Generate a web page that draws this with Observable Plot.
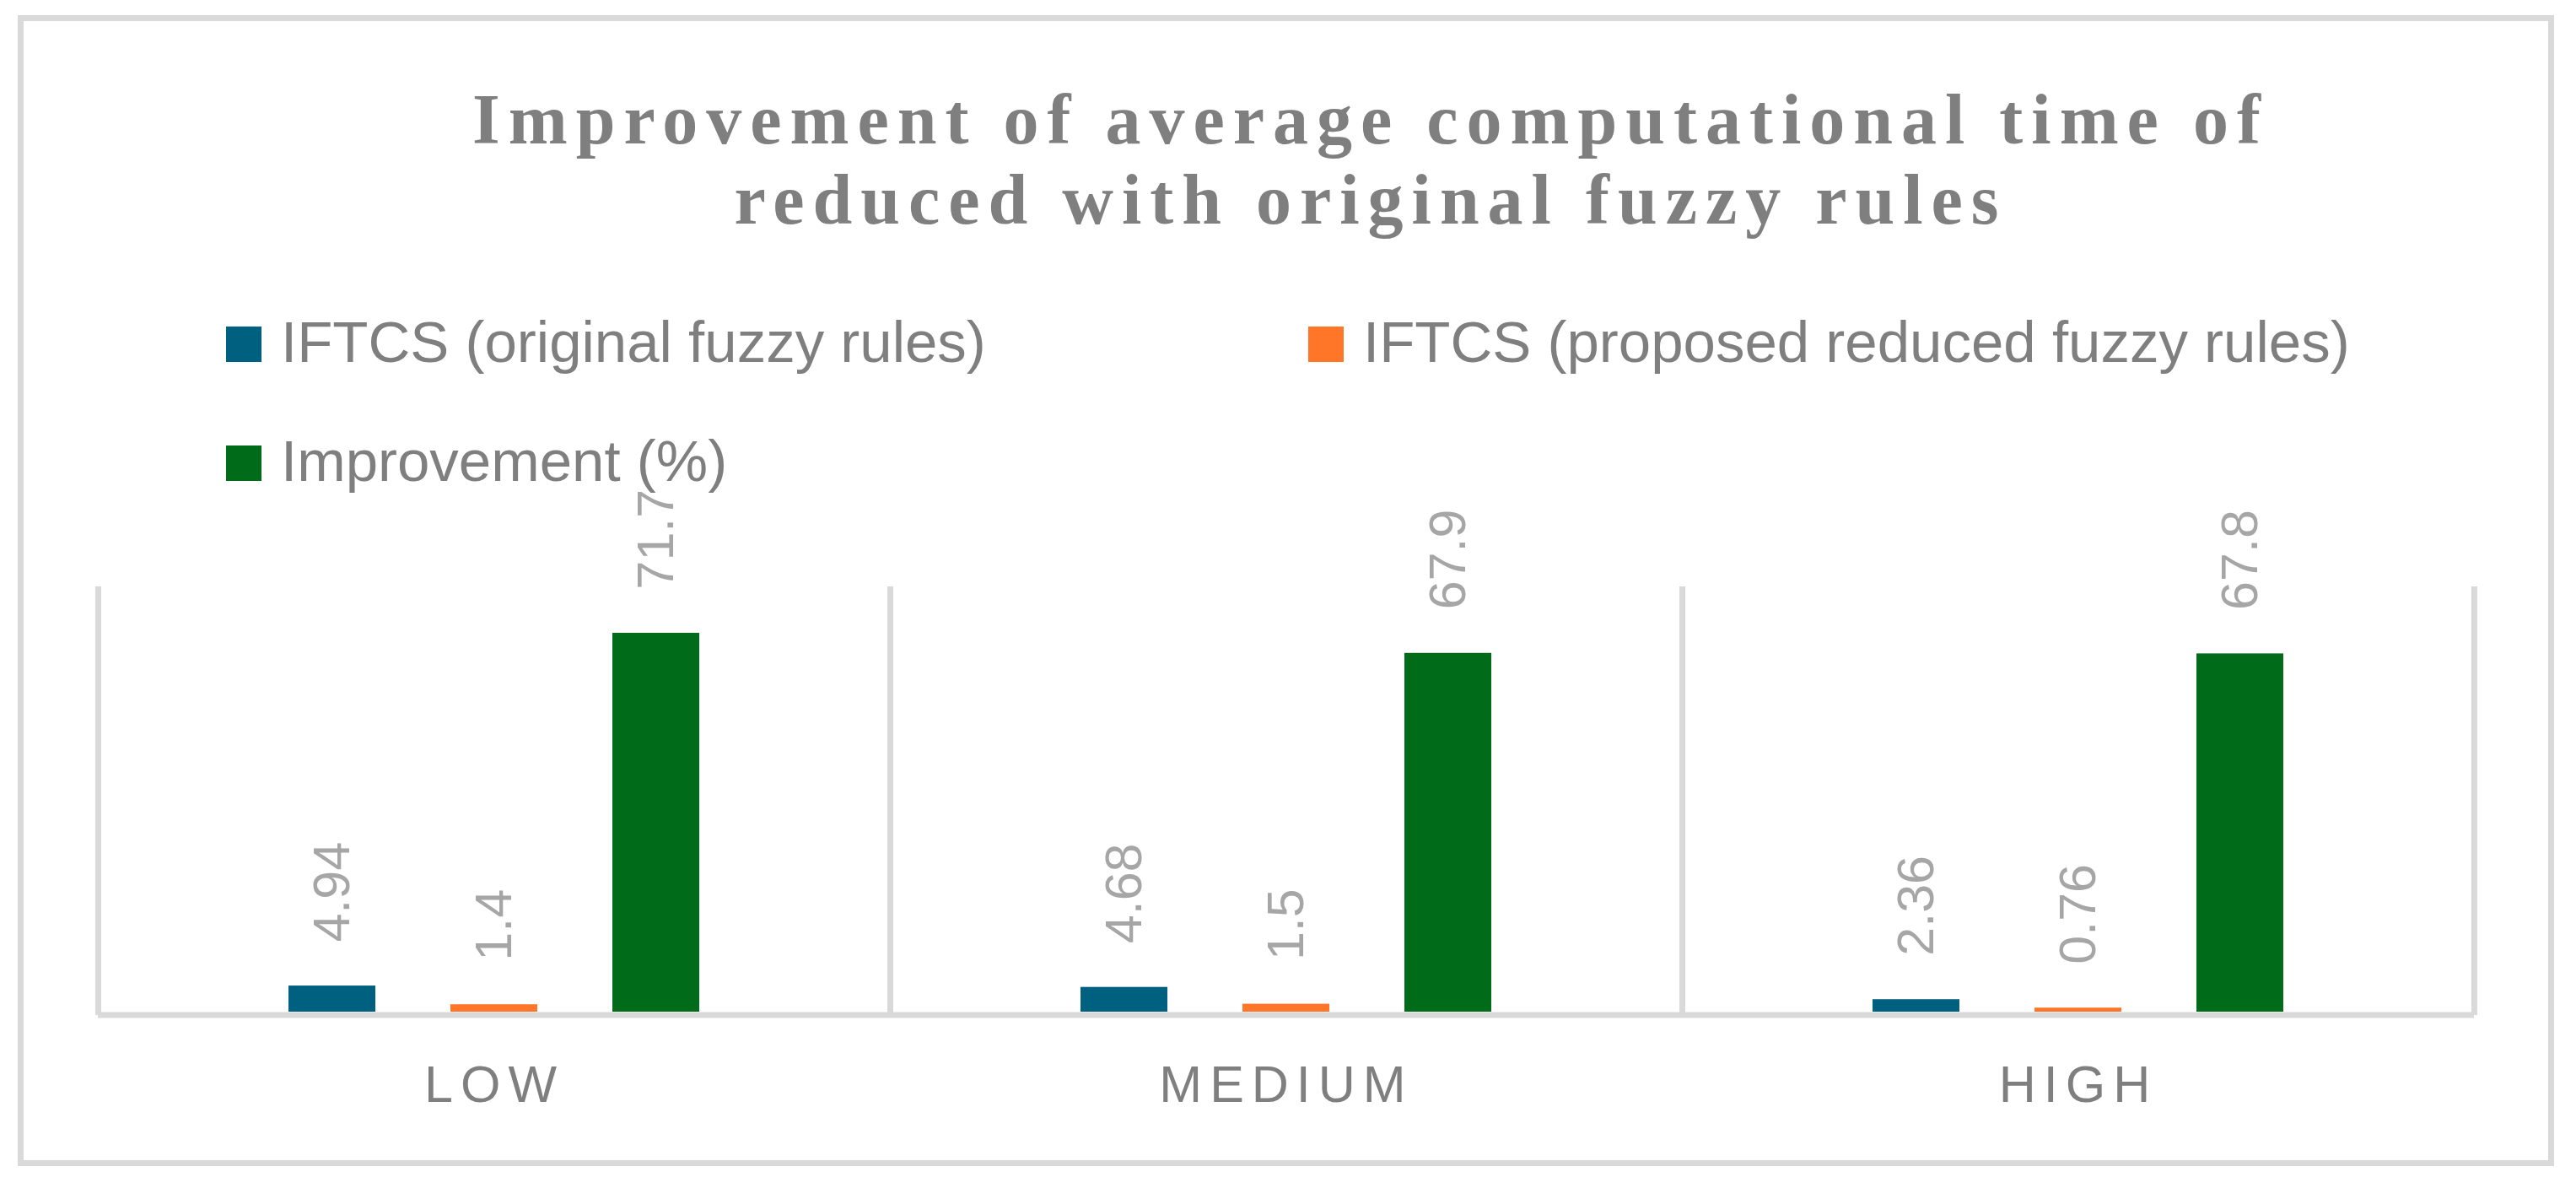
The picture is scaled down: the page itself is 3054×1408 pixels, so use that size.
<!DOCTYPE html>
<html>
<head>
<meta charset="utf-8">
<script src="https://cdn.jsdelivr.net/npm/d3@7"></script>
<script src="https://cdn.jsdelivr.net/npm/@observablehq/plot@0.6"></script>
<style>
  html, body { margin: 0; padding: 0; background: #fff; }
  #wrap { position: relative; width: 3054px; height: 1408px; overflow: hidden; background: #fff; }
  #border { position: absolute; left: 21px; top: 18px; width: 2993px; height: 1350px; border: 7px solid #d9d9d9; }
  #title { position: absolute; left: 0; top: 94px; width: 2858px; padding-left: 196px; text-align: center;
           font-family: "Liberation Serif", "Times New Roman", serif; font-weight: bold; font-size: 84px;
           line-height: 95px; color: #7f7f7f; letter-spacing: 10px; white-space: nowrap; }
  .sw { position: absolute; width: 42px; height: 42px; }
  .lt { position: absolute; font-family: "Liberation Sans", Arial, sans-serif; font-size: 69px; line-height: 80px;
        color: #7f7f7f; white-space: nowrap; }
  #chart { position: absolute; left: 0; top: 600px; }
</style>
</head>
<body>
<div id="wrap">
  <div id="border"></div>
  <div id="title"></div>
  <div id="legend"></div>
  <div id="chart"></div>
</div>
<script>
// ---- data ----
const categories = ["LOW", "MEDIUM", "HIGH"];
const series = ["IFTCS (original fuzzy rules)", "IFTCS (proposed reduced fuzzy rules)", "Improvement (%)"];
const colors = ["#006080", "#FF7629", "#006B18"];
const originalRules = [4.94, 4.68, 2.36];
const reducedRules = [1.4, 1.5, 0.76];
const improvement = [71.7, 67.9, 67.8];
const titleLines = ["Improvement of average computational time of", "reduced with original fuzzy rules"];
const yDomain = [0, 80];

// ---- table ----
const valuesBySeries = [originalRules, reducedRules, improvement];
const rows = [];
categories.forEach((c, i) => {
  series.forEach((s, j) => rows.push({category: c, series: s, value: valuesBySeries[j][i]}));
});

// ---- title ----
const titleEl = document.getElementById("title");
titleLines.forEach((t, i) => {
  if (i > 0) titleEl.appendChild(document.createElement("br"));
  titleEl.appendChild(document.createTextNode(t));
});

// ---- legend ----
const legend = document.getElementById("legend");
const colX = [268, 1551];
const rowY = [387, 528];
series.forEach((s, i) => {
  const x = colX[i % 2], y = rowY[Math.floor(i / 2)];
  const sw = document.createElement("div");
  sw.className = "sw";
  sw.style.left = x + "px"; sw.style.top = y + "px"; sw.style.background = colors[i];
  legend.appendChild(sw);
  const lt = document.createElement("div");
  lt.className = "lt";
  lt.style.left = (x + 65) + "px"; lt.style.top = (y - 21) + "px";
  lt.textContent = s;
  legend.appendChild(lt);
});

// ---- chart ----
const plot = Plot.plot({
  width: 3054,
  height: 740,
  marginLeft: 116,
  marginRight: 121,
  marginTop: 98,
  marginBottom: 141,
  style: {background: "transparent", fontFamily: "Liberation Sans, Arial, sans-serif", overflow: "visible"},
  fx: {domain: categories, padding: 0, axis: null},
  x: {domain: series, paddingInner: 0.466, paddingOuter: 1.166, axis: null},
  y: {domain: yDomain, axis: null},
  color: {domain: series, range: colors},
  marks: [
    Plot.frame({anchor: "left", stroke: "#d9d9d9", strokeWidth: 7}),
    Plot.frame({anchor: "right", stroke: "#d9d9d9", strokeWidth: 7}),
    Plot.barY(rows, {fx: "category", x: "series", y: "value", fill: "series"}),
    Plot.ruleY([0], {stroke: "#d9d9d9", strokeWidth: 7, dy: 3.5}),
    Plot.text(rows, {fx: "category", x: "series", y: "value", text: d => String(d.value),
      rotate: -90, textAnchor: "start", dy: -52, fontSize: 61, fill: "#a6a6a6",
      fontFamily: "Liberation Sans, Arial, sans-serif"}),
    Plot.text(categories, {fx: d => d, text: d => d, frameAnchor: "bottom", lineAnchor: "middle", dy: 87,
      fontSize: 61, fill: "#7f7f7f", fontFamily: "Liberation Sans, Arial, sans-serif"})
  ]
});
d3.select(plot).selectAll("text")
  .filter(function () { return categories.includes(this.textContent); })
  .style("letter-spacing", "9px");
document.getElementById("chart").appendChild(plot);
</script>
</body>
</html>
